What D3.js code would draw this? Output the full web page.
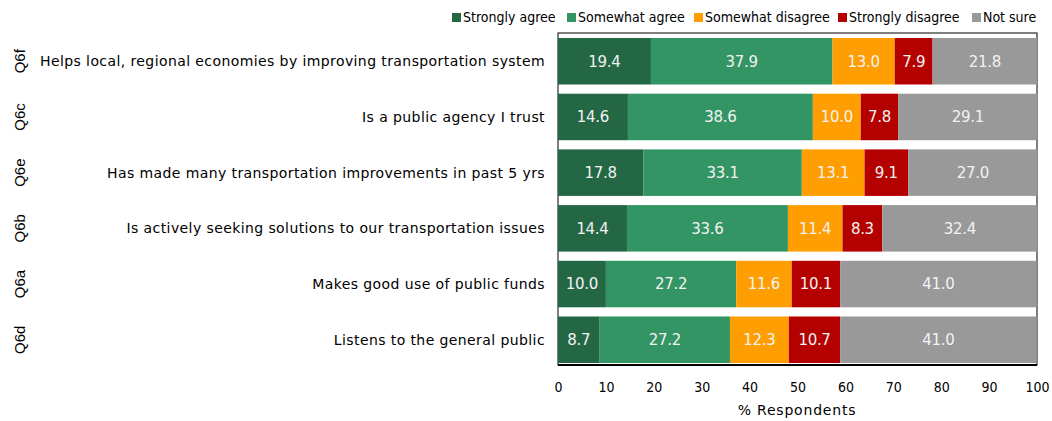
<!DOCTYPE html>
<html><head><meta charset="utf-8">
<script src="https://cdn.jsdelivr.net/npm/d3@7"></script>
<style>body{margin:0;background:#fff}svg{display:block}text{font-family:"DejaVu Sans Condensed","DejaVu Sans",sans-serif}</style>
</head><body><svg id="c" width="1052" height="421"></svg>
<script>
const codes = ["Q6f","Q6c","Q6e","Q6b","Q6a","Q6d"];
const categories = [
  "Helps local, regional economies by improving transportation system",
  "Is a public agency I trust",
  "Has made many transportation improvements in past 5 yrs",
  "Is actively seeking solutions to our transportation issues",
  "Makes good use of public funds",
  "Listens to the general public"
];
const seriesNames = ["Strongly agree","Somewhat agree","Somewhat disagree","Strongly disagree","Not sure"];
const stronglyAgree    = [19.4,14.6,17.8,14.4,10.0,8.7];
const somewhatAgree    = [37.9,38.6,33.1,33.6,27.2,27.2];
const somewhatDisagree = [13.0,10.0,13.1,11.4,11.6,12.3];
const stronglyDisagree = [7.9,7.8,9.1,8.3,10.1,10.7];
const notSure          = [21.8,29.1,27.0,32.4,41.0,41.0];
const xTicks = [0,10,20,30,40,50,60,70,80,90,100];
const colors = ["#236745","#339563","#FF9E00","#B50000","#999999"];

const series = [stronglyAgree,somewhatAgree,somewhatDisagree,stronglyDisagree,notSure];
const rows = categories.map((c,i)=>{const o={cat:c,code:codes[i]};seriesNames.forEach((s,j)=>o[s]=series[j][i]);return o;});
const stack = d3.stack().keys(seriesNames)(rows);

const svg = d3.select("#c");
const L=558,R=1037,T=33,B=365;
const x = d3.scaleLinear().domain([0,100]).range([L,R]);
const y = d3.scaleBand().domain(categories).range([38,363]).paddingInner(0.165).paddingOuter(0);

svg.append("rect").attr("x",L).attr("y",T).attr("width",R-L).attr("height",B-T).attr("fill","none").attr("stroke","#000").attr("stroke-width",1);

stack.forEach((layer,j)=>{
  const g = svg.append("g");
  g.selectAll("rect").data(layer).join("rect")
    .attr("x",d=>x(d[0])).attr("width",d=>x(d[1])-x(d[0]))
    .attr("y",d=>y(d.data.cat)).attr("height",y.bandwidth())
    .attr("fill",colors[j]);
  g.selectAll("text").data(layer).join("text")
    .attr("x",d=>(x(d[0])+x(d[1]))/2).attr("y",d=>y(d.data.cat)+y.bandwidth()/2)
    .attr("dy","0.36em").attr("text-anchor","middle").attr("fill","#f2f2f2")
    .attr("font-size",15).style("font-family","'DejaVu Sans',sans-serif").attr("letter-spacing",-0.3)
    .text(d=>(d[1]-d[0]).toFixed(1));
});
svg.append("line").attr("x1",L).attr("x2",R).attr("y1",B).attr("y2",B).attr("stroke","#000").attr("stroke-width",2);

// category labels
const cl = svg.append("g").selectAll("text").data(rows).join("text")
  .attr("x",545).attr("y",d=>y(d.cat)+y.bandwidth()/2).attr("dy","0.36em")
  .attr("text-anchor","end").attr("font-size",14).attr("fill","#000")
  .style("font-family","'DejaVu Sans',sans-serif").text(d=>d.cat);
const w0 = cl.nodes()[0].getComputedTextLength();
const ls = (505 - w0)/categories[0].length;
cl.attr("letter-spacing",ls);

svg.append("g").selectAll("text").data(rows).join("text")
  .attr("transform",d=>`translate(20,${y(d.cat)+y.bandwidth()/2}) rotate(-90)`)
  .attr("dy","0.36em").attr("text-anchor","middle").attr("font-size",15)
  .style("font-family","'Liberation Sans',Arial,sans-serif").text(d=>d.code);

const ax = svg.append("g").attr("transform",`translate(0,${B})`)
  .call(d3.axisBottom(x).tickValues(xTicks).tickSize(0).tickPadding(17));
ax.select(".domain").remove();
ax.selectAll("text").attr("font-size",14).attr("fill","#000").style("font-family","'DejaVu Sans Condensed','DejaVu Sans',sans-serif");
svg.append("text").attr("x",797).attr("y",415).attr("text-anchor","middle").attr("font-size",14)
  .attr("letter-spacing",0.8).style("font-family","'DejaVu Sans',sans-serif").text("% Respondents");

const legX = [452,567,694,838,972];
const lg = svg.append("g");
seriesNames.forEach((s,j)=>{
  lg.append("rect").attr("x",legX[j]).attr("y",13).attr("width",9).attr("height",9).attr("fill",colors[j]);
  lg.append("text").attr("x",legX[j]+11).attr("y",17).attr("dy","0.36em").attr("font-size",14).text(s);
});
</script></body></html>
